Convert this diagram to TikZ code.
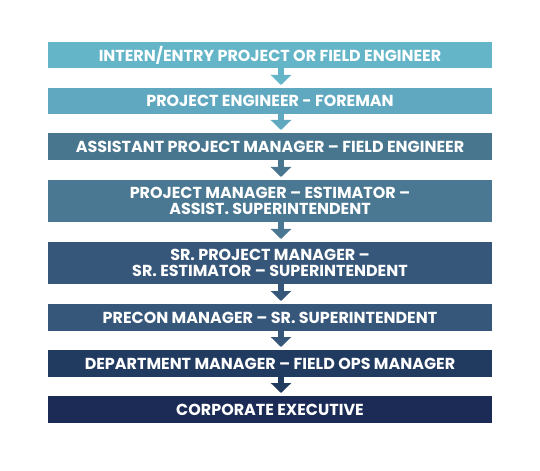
\documentclass[tikz,border=0pt]{standalone}
\usepackage{fontspec}
\setmainfont{Poppins}
\usetikzlibrary{arrows.meta,calc}
\definecolor{cA}{HTML}{63B5C7}
\definecolor{cB}{HTML}{5FA8BF}
\definecolor{cC}{HTML}{48768F}
\definecolor{cD}{HTML}{4A7892}
\definecolor{cE}{HTML}{37577A}
\definecolor{cF}{HTML}{37577A}
\definecolor{cG}{HTML}{213A60}
\definecolor{cH}{HTML}{1C2B56}
\begin{document}
\begin{tikzpicture}[x=1bp,y=-1bp,
  box/.style={fill=#1, minimum width=444bp, inner sep=0pt, text=white,
    font=\fontsize{16}{16}\selectfont\bfseries, align=center, anchor=north},
  flow/.style={draw=#1, line width=6bp, -{Triangle[width=20bp,length=10bp]}, shorten >=3bp}]
\fill[white] (0,0) rectangle (540,471);
\useasboundingbox (0,0) rectangle (540,471);
\node[box=cA, minimum height=26bp] (b1) at (270,42) {INTERN/ENTRY PROJECT OR FIELD ENGINEER};
\node[box=cB, minimum height=26bp] (b2) at (270,88) {PROJECT ENGINEER - FOREMAN};
\node[box=cC, minimum height=27bp] (b3) at (270,133) {ASSISTANT PROJECT MANAGER – FIELD ENGINEER};
\node[box=cD, minimum height=42bp] (b4) at (270,180) {PROJECT MANAGER – ESTIMATOR –\\ASSIST. SUPERINTENDENT};
\node[box=cE, minimum height=42bp] (b5) at (270,242) {SR. PROJECT MANAGER –\\SR. ESTIMATOR – SUPERINTENDENT};
\node[box=cF, minimum height=27bp] (b6) at (270,304) {PRECON MANAGER – SR. SUPERINTENDENT};
\node[box=cG, minimum height=27bp] (b7) at (270,350) {DEPARTMENT MANAGER – FIELD OPS MANAGER};
\node[box=cH, minimum height=27bp] (b8) at (270,396) {CORPORATE EXECUTIVE};
\foreach \u/\v/\c in {b1/b2/cA, b2/b3/cB, b3/b4/cC, b4/b5/cD, b5/b6/cE, b6/b7/cF, b7/b8/cG}
  \draw[flow=\c] ($(\u.south)+(11,0)$) -- ($(\v.north)+(11,0)$);
\end{tikzpicture}
\end{document}
